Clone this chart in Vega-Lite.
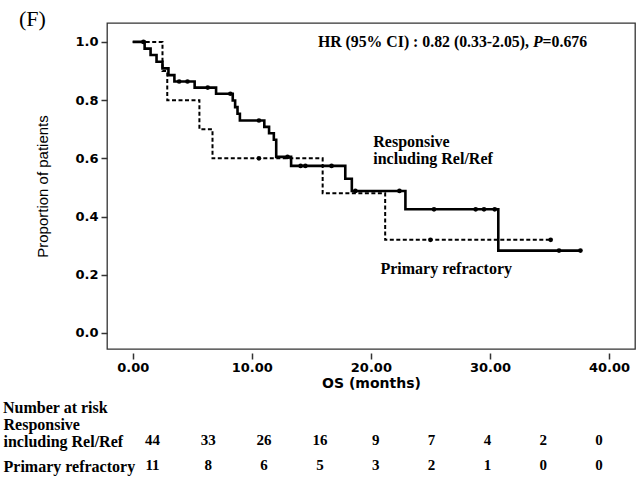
{
  "$schema": "https://vega.github.io/schema/vega-lite/v6.json",
  "background": "white",
  "padding": {"left": 2, "top": 7, "right": 4, "bottom": 2},
  "bounds": "flush",
  "spacing": 75,
  "config": {
    "view": {"stroke": null},
    "axis": {"grid": false, "labelColor": "black", "tickColor": "#333", "titleColor": "black"}
  },
  "datasets": {
    "km": [
      {"group": "Responsive including Rel/Ref", "time": 0, "surv": 1.0, "censored": false},
      {"group": "Responsive including Rel/Ref", "time": 0.9, "surv": 1.0, "censored": true},
      {"group": "Responsive including Rel/Ref", "time": 1.0, "surv": 0.977, "censored": false},
      {"group": "Responsive including Rel/Ref", "time": 1.5, "surv": 0.955, "censored": false},
      {"group": "Responsive including Rel/Ref", "time": 2.0, "surv": 0.932, "censored": false},
      {"group": "Responsive including Rel/Ref", "time": 2.5, "surv": 0.909, "censored": false},
      {"group": "Responsive including Rel/Ref", "time": 3.0, "surv": 0.886, "censored": false},
      {"group": "Responsive including Rel/Ref", "time": 3.5, "surv": 0.864, "censored": false},
      {"group": "Responsive including Rel/Ref", "time": 3.9, "surv": 0.864, "censored": true},
      {"group": "Responsive including Rel/Ref", "time": 4.6, "surv": 0.864, "censored": true},
      {"group": "Responsive including Rel/Ref", "time": 5.2, "surv": 0.843, "censored": false},
      {"group": "Responsive including Rel/Ref", "time": 6.3, "surv": 0.843, "censored": true},
      {"group": "Responsive including Rel/Ref", "time": 7.0, "surv": 0.822, "censored": false},
      {"group": "Responsive including Rel/Ref", "time": 8.2, "surv": 0.822, "censored": true},
      {"group": "Responsive including Rel/Ref", "time": 8.4, "surv": 0.799, "censored": false},
      {"group": "Responsive including Rel/Ref", "time": 8.6, "surv": 0.776, "censored": false},
      {"group": "Responsive including Rel/Ref", "time": 8.8, "surv": 0.753, "censored": false},
      {"group": "Responsive including Rel/Ref", "time": 9.0, "surv": 0.730, "censored": false},
      {"group": "Responsive including Rel/Ref", "time": 10.6, "surv": 0.730, "censored": true},
      {"group": "Responsive including Rel/Ref", "time": 11.05, "surv": 0.708, "censored": false},
      {"group": "Responsive including Rel/Ref", "time": 11.45, "surv": 0.686, "censored": false},
      {"group": "Responsive including Rel/Ref", "time": 11.85, "surv": 0.664, "censored": false},
      {"group": "Responsive including Rel/Ref", "time": 12.05, "surv": 0.605, "censored": false},
      {"group": "Responsive including Rel/Ref", "time": 13.0, "surv": 0.605, "censored": true},
      {"group": "Responsive including Rel/Ref", "time": 13.3, "surv": 0.574, "censored": false},
      {"group": "Responsive including Rel/Ref", "time": 14.1, "surv": 0.574, "censored": true},
      {"group": "Responsive including Rel/Ref", "time": 14.5, "surv": 0.574, "censored": true},
      {"group": "Responsive including Rel/Ref", "time": 16.7, "surv": 0.574, "censored": true},
      {"group": "Responsive including Rel/Ref", "time": 17.85, "surv": 0.530, "censored": false},
      {"group": "Responsive including Rel/Ref", "time": 18.4, "surv": 0.488, "censored": false},
      {"group": "Responsive including Rel/Ref", "time": 18.7, "surv": 0.488, "censored": true},
      {"group": "Responsive including Rel/Ref", "time": 22.4, "surv": 0.488, "censored": true},
      {"group": "Responsive including Rel/Ref", "time": 22.9, "surv": 0.425, "censored": false},
      {"group": "Responsive including Rel/Ref", "time": 25.3, "surv": 0.425, "censored": true},
      {"group": "Responsive including Rel/Ref", "time": 28.8, "surv": 0.425, "censored": true},
      {"group": "Responsive including Rel/Ref", "time": 29.5, "surv": 0.425, "censored": true},
      {"group": "Responsive including Rel/Ref", "time": 30.4, "surv": 0.425, "censored": true},
      {"group": "Responsive including Rel/Ref", "time": 30.7, "surv": 0.283, "censored": false},
      {"group": "Responsive including Rel/Ref", "time": 35.8, "surv": 0.283, "censored": true},
      {"group": "Responsive including Rel/Ref", "time": 37.6, "surv": 0.283, "censored": true},
      {"group": "Primary refractory", "time": 0, "surv": 1.0, "censored": false},
      {"group": "Primary refractory", "time": 2.5, "surv": 0.9, "censored": false},
      {"group": "Primary refractory", "time": 2.9, "surv": 0.8, "censored": false},
      {"group": "Primary refractory", "time": 5.6, "surv": 0.7, "censored": false},
      {"group": "Primary refractory", "time": 6.7, "surv": 0.6, "censored": false},
      {"group": "Primary refractory", "time": 10.6, "surv": 0.6, "censored": true},
      {"group": "Primary refractory", "time": 15.95, "surv": 0.48, "censored": false},
      {"group": "Primary refractory", "time": 21.2, "surv": 0.32, "censored": false},
      {"group": "Primary refractory", "time": 25.0, "surv": 0.32, "censored": true},
      {"group": "Primary refractory", "time": 35.1, "surv": 0.32, "censored": true}
    ],
    "risk": [
      {"group": "Responsive including Rel/Ref", "time": 0, "n": 44},
      {"group": "Responsive including Rel/Ref", "time": 5, "n": 33},
      {"group": "Responsive including Rel/Ref", "time": 10, "n": 26},
      {"group": "Responsive including Rel/Ref", "time": 15, "n": 16},
      {"group": "Responsive including Rel/Ref", "time": 20, "n": 9},
      {"group": "Responsive including Rel/Ref", "time": 25, "n": 7},
      {"group": "Responsive including Rel/Ref", "time": 30, "n": 4},
      {"group": "Responsive including Rel/Ref", "time": 35, "n": 2},
      {"group": "Responsive including Rel/Ref", "time": 40, "n": 0},
      {"group": "Primary refractory", "time": 0, "n": 11},
      {"group": "Primary refractory", "time": 5, "n": 8},
      {"group": "Primary refractory", "time": 10, "n": 6},
      {"group": "Primary refractory", "time": 15, "n": 5},
      {"group": "Primary refractory", "time": 20, "n": 3},
      {"group": "Primary refractory", "time": 25, "n": 2},
      {"group": "Primary refractory", "time": 30, "n": 1},
      {"group": "Primary refractory", "time": 35, "n": 0},
      {"group": "Primary refractory", "time": 40, "n": 0}
    ],
    "one": [{"k": 1}]
  },
  "vconcat": [
    {
      "width": 528,
      "height": 326,
      "view": {"stroke": "#333", "strokeWidth": 1.3},
      "layer": [
        {"data": {"name": "km"},
         "transform": [{"filter": "datum.group === 'Primary refractory'"}],
         "mark": {"type": "line", "interpolate": "step-after", "color": "black", "strokeWidth": 2, "strokeDash": [4, 2.5]},
         "encoding": {
          "x": {"field": "time", "type": "quantitative",
            "scale": {"domain": [-2.16, 42.18], "nice": false, "zero": false},
            "axis": {"values": [0, 10, 20, 30, 40], "format": ".2f", "title": "OS (months)", "titleFont": "DejaVu Sans", "titleFontSize": 14, "titleFontWeight": "bold", "titlePadding": 2, "labelFont": "DejaVu Sans", "labelFontSize": 13, "labelFontWeight": "bold", "labelPadding": 2, "domain": false, "tickSize": 6, "tickWidth": 1.5, "offset": 4, "labelFlush": false}},
          "y": {"field": "surv", "type": "quantitative",
            "scale": {"domain": [-0.055, 1.065], "nice": false, "zero": false},
            "axis": {"values": [0, 0.2, 0.4, 0.6, 0.8, 1.0], "format": ".1f", "title": "Proportion of patients", "titleFont": "Liberation Sans", "titleFontSize": 15, "titleFontWeight": "normal", "titlePadding": 24, "labelFont": "DejaVu Sans", "labelFontSize": 13, "labelFontWeight": "bold", "labelPadding": 3, "domain": false, "tickSize": 6, "tickWidth": 1.5}}
         }},
        {"data": {"name": "km"},
         "transform": [{"filter": "datum.group === 'Responsive including Rel/Ref'"}],
         "mark": {"type": "line", "interpolate": "step-after", "color": "black", "strokeWidth": 2.6},
         "encoding": {
          "x": {"field": "time", "type": "quantitative"},
          "y": {"field": "surv", "type": "quantitative"}
         }},
        {"data": {"name": "km"},
         "transform": [{"filter": "datum.censored"}],
         "mark": {"type": "point", "filled": true, "color": "black", "size": 22, "opacity": 1},
         "encoding": {
          "x": {"field": "time", "type": "quantitative"},
          "y": {"field": "surv", "type": "quantitative"}
         }},
        {"data": {"name": "one"},
         "mark": {"type": "text", "align": "left", "baseline": "middle", "font": "Liberation Serif", "fontSize": 15.8, "fontWeight": "bold", "color": "black"},
         "encoding": {"x": {"datum": 15.55}, "y": {"datum": 1.0}, "text": {"value": "HR (95% CI) : 0.82 (0.33-2.05), "}}},
        {"data": {"name": "one"},
         "mark": {"type": "text", "align": "left", "baseline": "middle", "font": "Liberation Serif", "fontSize": 15.8, "fontWeight": "bold", "fontStyle": "italic", "color": "black", "dx": 215.0},
         "encoding": {"x": {"datum": 15.55}, "y": {"datum": 1.0}, "text": {"value": "P"}}},
        {"data": {"name": "one"},
         "mark": {"type": "text", "align": "left", "baseline": "middle", "font": "Liberation Serif", "fontSize": 15.8, "fontWeight": "bold", "color": "black", "dx": 224.7},
         "encoding": {"x": {"datum": 15.55}, "y": {"datum": 1.0}, "text": {"value": "=0.676"}}},
        {"data": {"name": "one"},
         "mark": {"type": "text", "align": "left", "baseline": "middle", "lineHeight": 17, "font": "Liberation Serif", "fontSize": 16, "fontWeight": "bold", "color": "black"},
         "encoding": {"x": {"datum": 20.2}, "y": {"datum": 0.656}, "text": {"value": ["Responsive", "including Rel/Ref"]}}},
        {"data": {"name": "one"},
         "mark": {"type": "text", "align": "left", "baseline": "middle", "font": "Liberation Serif", "fontSize": 16, "fontWeight": "bold", "color": "black"},
         "encoding": {"x": {"datum": 20.8}, "y": {"datum": 0.22}, "text": {"value": "Primary refractory"}}},
        {"data": {"name": "one"},
         "mark": {"type": "text", "align": "left", "baseline": "middle", "font": "Liberation Serif", "fontSize": 22, "fontWeight": "normal", "color": "black"},
         "encoding": {"x": {"datum": -9.55}, "y": {"datum": 1.079}, "text": {"value": "(F)"}}},
        {"data": {"name": "one"},
         "mark": {"type": "text", "align": "left", "baseline": "middle", "font": "Liberation Serif", "fontSize": 16, "fontWeight": "bold", "color": "black"},
         "encoding": {"x": {"datum": -10.89}, "y": {"datum": -0.258}, "text": {"value": "Number at risk"}}}
      ]
    },
    {
      "width": 528,
      "height": 25,
      "data": {"name": "risk"},
      "mark": {"type": "text", "font": "Liberation Serif", "fontSize": 15, "fontWeight": "bold", "baseline": "middle", "align": "center", "color": "black", "dy": 16},
      "encoding": {
        "x": {"field": "time", "type": "quantitative", "scale": {"domain": [-4.076, 43.225], "nice": false, "zero": false}, "axis": null},
        "y": {"field": "group", "type": "nominal", "sort": ["Responsive including Rel/Ref", "Primary refractory"],
          "scale": {"type": "point", "padding": 0},
          "axis": {"title": null, "domain": false, "ticks": false, "labelAlign": "left", "labelBaseline": "middle", "labelPadding": 104, "labelFont": "Liberation Serif", "labelFontSize": 16, "labelFontWeight": "bold", "labelColor": "black", "labelLineHeight": 17, "labelLimit": 0,
            "labelExpr": "datum.value == 'Responsive including Rel/Ref' ? ['Responsive', 'including Rel/Ref'] : ['', datum.value]"}},
        "text": {"field": "n", "type": "quantitative"}
      }
    }
  ]
}
